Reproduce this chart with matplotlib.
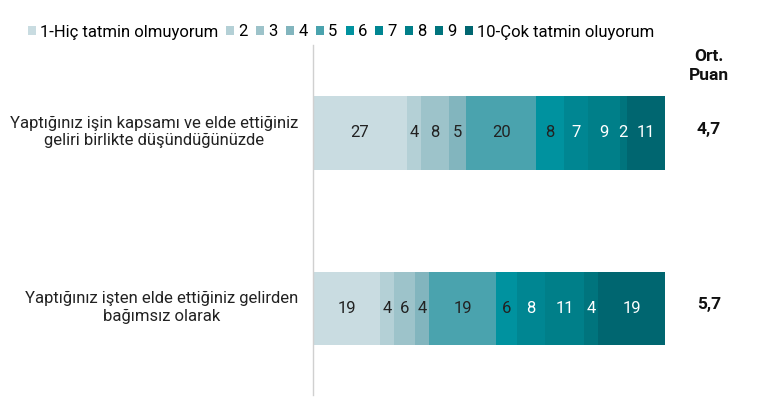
import matplotlib.pyplot as plt
from matplotlib.patches import Patch
import numpy as np

plt.rcParams['font.family'] = ['Roboto', 'DejaVu Sans']

# veriler
questions = [
    "Yaptığınız işin kapsamı ve elde ettiğiniz\ngeliri birlikte düşündüğünüzde",
    "Yaptığınız işten elde ettiğiniz gelirden\nbağımsız olarak",
]
levels = ["1-Hiç tatmin olmuyorum", "2", "3", "4", "5", "6", "7", "8", "9",
          "10-Çok tatmin oluyorum"]
row1 = [27, 4, 8, 5, 20, 8, 7, 9, 2, 11]
row2 = [19, 4, 6, 4, 19, 6, 8, 11, 4, 19]
averages = ["4,7", "5,7"]

colors = ['#c9dce1', '#b4d0d6', '#9dc3ca', '#82b5be', '#4aa3ae',
          '#00929f', '#008692', '#007f89', '#00747d', '#006670']
text_colors = ['#222222'] * 6 + ['white'] * 4

fig = plt.figure(figsize=(7.61, 4.03), dpi=100)
W, H = 761, 403
ax = fig.add_axes([313 / W, 1 - 395 / H, (761 - 313) / W, 350 / H])

data = [row1, row2]
xmax = 100 * (761 - 313) / (665 - 313)
for i, row in enumerate(data):
    vals = np.array(row, dtype=float)
    widths = vals / vals.sum() * 100
    left = 0
    for j, (v, w) in enumerate(zip(row, widths)):
        ax.barh(i, w, left=left, height=0.42, color=colors[j], edgecolor='none')
        ax.text(left + w / 2, i, str(v), ha='center', va='center',
                fontsize=12, color=text_colors[j])
        left += w
    ax.text(112.5, i - 0.02, averages[i], ha='center', va='center',
            fontsize=12.5, fontweight='bold', color='#111111')

ax.set_xlim(0, xmax)
ax.set_ylim(1.493, -0.501)
ax.set_xticks([])
ax.set_yticks([])
for s in ['top', 'right', 'bottom']:
    ax.spines[s].set_visible(False)
ax.spines['left'].set_color('#d0d0d0')
ax.spines['left'].set_linewidth(1)

# soru etiketleri
for i, q in enumerate(questions):
    fig.text(298 / W, 1 - (132 + i * 175.5) / H, q, ha='right', va='center',
             multialignment='center', fontsize=12, color='#222222', linespacing=1.2)

fig.text(709 / W, 1 - 66 / H, "Ort.\nPuan", ha='center', va='center',
         fontsize=12.5, fontweight='bold', color='#111111', linespacing=1.35)

handles = [Patch(facecolor=c, edgecolor='none', label=l) for c, l in zip(colors, levels)]
fig.legend(handles=handles, loc='center', bbox_to_anchor=(341 / W, 1 - 32 / H),
           ncol=10, frameon=False, fontsize=12, handlelength=0.48, handleheight=0.48,
           handletextpad=0.25, columnspacing=0.5, borderaxespad=0, borderpad=0)

plt.savefig('out.png', dpi=100)
